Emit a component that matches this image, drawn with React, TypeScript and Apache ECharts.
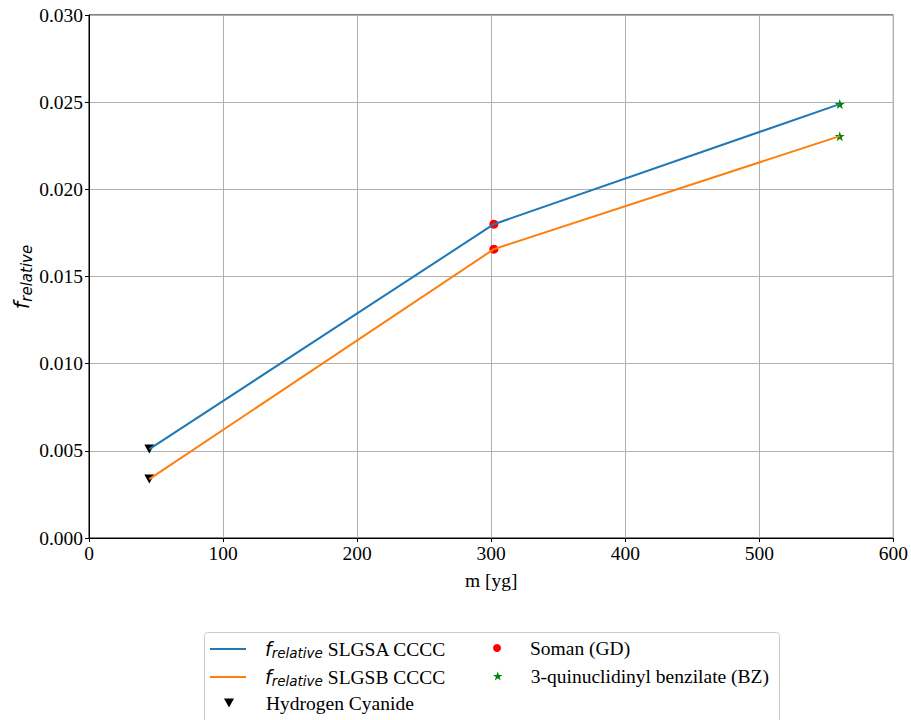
import React, { useEffect, useRef } from "react";
import * as echarts from "echarts";

const hcnX = 45;
const somanX = 302;
const bzX = 560;
const massX = [hcnX, somanX, bzX];
const slgsaValues = [0.0051, 0.0180, 0.02489];
const slgsbValues = [0.00338, 0.01657, 0.02305];

const SERIF = "Liberation Serif";
const FS = 19.5;
const STAR =
  "path://M50,0 L61.8,35.4 L99,35.4 L69,57.3 L80.3,92.7 L50,70.8 L19.7,92.7 L31,57.3 L1,35.4 L38.2,35.4 Z";
const TRI_DOWN = "path://M0,0 L10,0 L5,9 Z";
const LINE_ICON = "path://M0,0 L36,0 L36,2 L0,2 Z";

const LABELS: Record<string, string> = {
  SLGSA: "{f|f}{s|relative}{t| SLGSA CCCC}",
  SLGSB: "{f|f}{s|relative}{t| SLGSB CCCC}",
};
const rich = {
  f: { fontFamily: "DejaVu Sans", fontStyle: "italic", fontSize: 19, color: "#000", lineHeight: 22 },
  s: { fontFamily: "DejaVu Sans", fontStyle: "italic", fontSize: 13.5, color: "#000", padding: [8, 0, 0, 0], lineHeight: 22 },
  t: { fontFamily: SERIF, fontSize: FS, color: "#000", lineHeight: 22 },
};

export default function App() {
  const ref = useRef<HTMLDivElement>(null);
  useEffect(() => {
    document.body.style.margin = "0";
    document.body.style.overflow = "hidden";
    if (!ref.current) return;
    const chart = echarts.init(ref.current, undefined, { renderer: "svg" });
    const pairs = (vals: number[]) => vals.map((v, i) => [massX[i], v]);
    const mkLegend = (name: string, icon: string, left: number, centerY: number, pad: number, ih: number) => ({
      orient: "horizontal",
      left,
      top: centerY - 11,
      itemWidth: 36,
      itemHeight: ih,
      symbolKeepAspect: true,
      padding: 0,
      data: [{ name, icon }],
      formatter: (n: string) => LABELS[n] ?? `{t|${n}}`,
      textStyle: { rich, fontFamily: SERIF, fontSize: FS, color: "#000", padding: [0, 0, 0, pad] },
    });
    const option: any = {
      animation: false,
      backgroundColor: "#fff",
      grid: {
        left: 89,
        right: 17,
        top: 15,
        bottom: 182,
        show: true,
        borderColor: "#000",
        borderWidth: 1,
        backgroundColor: "transparent",
      },
      xAxis: {
        type: "value",
        min: 0,
        max: 600,
        interval: 100,
        name: "m [yg]",
        nameLocation: "middle",
        nameGap: 32,
        nameTextStyle: { fontFamily: SERIF, fontSize: FS, color: "#000" },
        axisLine: { lineStyle: { color: "#000", width: 1 } },
        axisTick: { show: true, length: 4, lineStyle: { color: "#000" } },
        axisLabel: { fontFamily: SERIF, fontSize: FS, color: "#000", margin: 5 },
        splitLine: { show: true, lineStyle: { color: "#b0b0b0", width: 1 } },
      },
      yAxis: {
        type: "value",
        min: 0,
        max: 0.03,
        interval: 0.005,
        axisLine: { show: true, lineStyle: { color: "#000", width: 1 } },
        axisTick: { show: true, length: 4, lineStyle: { color: "#000" } },
        axisLabel: {
          fontFamily: SERIF,
          fontSize: FS,
          color: "#000",
          margin: 6,
          formatter: (v: number) => v.toFixed(3),
        },
        splitLine: { show: true, lineStyle: { color: "#b0b0b0", width: 1 } },
      },
      legend: [
        mkLegend("SLGSA", LINE_ICON, 210, 649, 14, 9),
        mkLegend("SLGSB", LINE_ICON, 210, 677, 14, 9),
        mkLegend("Hydrogen Cyanide", TRI_DOWN, 224, 704, 14, 9),
        mkLegend("Soman (GD)", "circle", 493, 649, 10, 8),
        mkLegend("3-quinuclidinyl benzilate (BZ)", STAR, 493, 677, 10, 9),
      ],
      graphic: [
        {
          type: "rect",
          shape: { x: 204.5, y: 632.5, width: 575, height: 100, r: 3 },
          style: { fill: "#fff", stroke: "#cccccc", lineWidth: 1 },
          z: -1,
          silent: true,
        },
        {
          type: "text",
          x: 22,
          y: 277,
          rotation: Math.PI / 2,
          style: {
            text: "{f|f}{s|relative}",
            rich: {
              f: { fontFamily: "DejaVu Sans", fontStyle: "italic", fontSize: 21, color: "#000" },
              s: { fontFamily: "DejaVu Sans", fontStyle: "italic", fontSize: 15, color: "#000", padding: [9, 0, 0, 0] },
            },
            align: "center",
            verticalAlign: "middle",
          },
        },
      ],
      series: [
        {
          name: "SLGSA",
          type: "line",
          data: pairs(slgsaValues),
          symbol: "none",
          lineStyle: { color: "#1f77b4", width: 2 },
          itemStyle: { color: "#1f77b4" },
          z: 2,
        },
        {
          name: "SLGSB",
          type: "line",
          data: pairs(slgsbValues),
          symbol: "none",
          lineStyle: { color: "#ff7f0e", width: 2 },
          itemStyle: { color: "#ff7f0e" },
          z: 2,
        },
        {
          name: "Hydrogen Cyanide",
          type: "scatter",
          data: [[hcnX, slgsaValues[0]], [hcnX, slgsbValues[0]]],
          symbol: TRI_DOWN,
          symbolSize: [10, 9],
          itemStyle: { color: "#000", opacity: 1 },
          z: 1,
        },
        {
          name: "Soman (GD)",
          type: "scatter",
          data: [[somanX, slgsaValues[1]], [somanX, slgsbValues[1]]],
          symbol: "circle",
          symbolSize: 9,
          itemStyle: { color: "#ff0000", opacity: 1 },
          z: 1,
        },
        {
          name: "3-quinuclidinyl benzilate (BZ)",
          type: "scatter",
          data: [[bzX, slgsaValues[2]], [bzX, slgsbValues[2]]],
          symbol: STAR,
          symbolSize: 10,
          itemStyle: { color: "#008000", opacity: 1 },
          z: 1,
        },
      ],
    };
    chart.setOption(option);
    return () => chart.dispose();
  }, []);
  return <div ref={ref} style={{ width: 911, height: 720 }} />;
}
